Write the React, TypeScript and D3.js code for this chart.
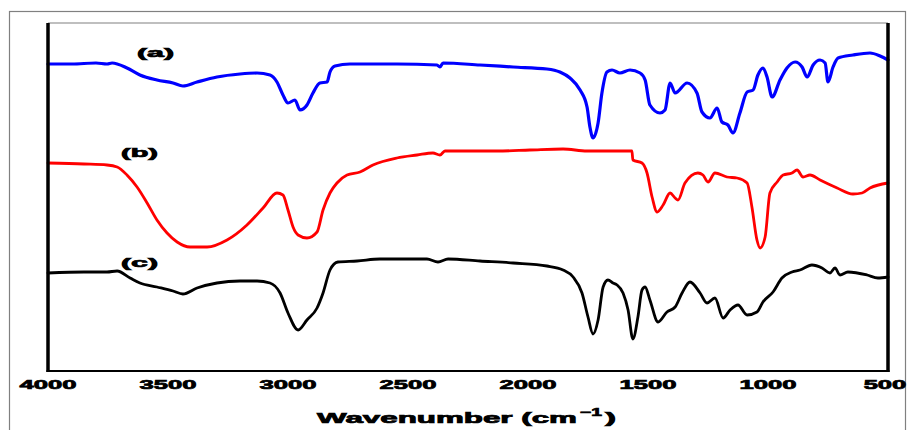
import React from "react";
import * as d3 from "d3";

const W = 907;
const H = 430;

const tickValues = [4000, 3500, 3000, 2500, 2000, 1500, 1000, 500];
const seriesLabels = ["(a)", "(b)", "(c)"];
const seriesColors = ["#0000ff", "#ff0000", "#000000"];

const spectrumA: [number, number][] = [
  [4000, 308], [3900, 308], [3800, 309], [3754, 308], [3733, 309], [3671, 304], [3617, 297], [3546, 292],
  [3479, 289], [3438, 286], [3379, 290], [3296, 295], [3200, 298], [3129, 299], [3075, 297], [3046, 290],
  [3021, 277], [3000, 269], [2971, 272], [2950, 262], [2921, 267], [2896, 279], [2867, 289], [2837, 290],
  [2825, 300], [2804, 306], [2742, 308], [2546, 308], [2379, 307], [2367, 305], [2354, 309], [2200, 307],
  [2062, 305], [1921, 303], [1867, 300], [1825, 294], [1783, 282], [1754, 265], [1742, 245], [1729, 234],
  [1708, 249], [1692, 279], [1671, 300], [1650, 302], [1617, 299], [1575, 302], [1533, 299], [1512, 292],
  [1492, 267], [1450, 259], [1429, 262], [1408, 289], [1387, 279], [1337, 289], [1296, 279], [1275, 260],
  [1242, 254], [1212, 264], [1192, 250], [1167, 247], [1146, 239], [1117, 259], [1087, 280], [1062, 282],
  [1042, 297], [1021, 304], [1004, 295], [983, 275], [950, 292], [921, 304], [887, 310], [858, 305],
  [837, 295], [812, 307], [783, 312], [762, 309], [750, 290], [729, 305], [708, 314], [646, 317],
  [575, 319], [533, 316], [500, 312],
];

const spectrumB: [number, number][] = [
  [4000, 209], [3850, 208], [3754, 207], [3712, 205], [3671, 197], [3629, 185], [3587, 169], [3546, 152],
  [3504, 139], [3462, 130], [3408, 125], [3337, 125], [3254, 132], [3171, 147], [3104, 164], [3046, 179],
  [3021, 177], [3000, 162], [2979, 145], [2958, 137], [2921, 134], [2879, 140], [2854, 162], [2825, 179],
  [2796, 189], [2754, 197], [2700, 200], [2646, 207], [2546, 214], [2462, 217], [2396, 219], [2367, 217],
  [2346, 221], [2271, 221], [2129, 221], [1992, 222], [1854, 223], [1754, 221], [1567, 221], [1563, 212],
  [1525, 209], [1504, 199], [1483, 175], [1462, 160], [1437, 167], [1408, 179], [1387, 174], [1375, 172],
  [1346, 189], [1292, 199], [1271, 197], [1250, 190], [1221, 199], [1171, 195], [1129, 194], [1087, 189],
  [1067, 165], [1046, 132], [1033, 124], [1012, 135], [992, 179], [962, 190], [937, 197], [900, 199],
  [879, 202], [854, 195], [825, 197], [783, 192], [712, 184], [646, 178], [608, 179], [575, 184],
  [500, 189],
];

const spectrumC: [number, number][] = [
  [4000, 99], [3850, 100], [3754, 100], [3712, 101], [3658, 94], [3617, 89], [3546, 85], [3479, 81],
  [3438, 78], [3379, 84], [3296, 89], [3200, 91], [3129, 91], [3075, 89], [3033, 79], [3000, 59],
  [2958, 42], [2921, 52], [2879, 64], [2854, 79], [2825, 102], [2792, 110], [2712, 111], [2617, 113],
  [2421, 113], [2375, 110], [2333, 113], [2200, 111], [2062, 109], [1921, 106], [1854, 102], [1812, 95],
  [1775, 79], [1750, 55], [1729, 38], [1708, 52], [1687, 85], [1667, 92], [1646, 89], [1629, 87],
  [1604, 79], [1583, 62], [1563, 33], [1542, 55], [1525, 82], [1512, 85], [1492, 72], [1458, 50],
  [1421, 60], [1387, 65], [1358, 79], [1325, 90], [1283, 79], [1254, 69], [1221, 74], [1187, 54],
  [1158, 62], [1125, 67], [1087, 57], [1046, 60], [1021, 70], [979, 80], [942, 94], [900, 100],
  [867, 102], [817, 107], [775, 104], [742, 99], [721, 104], [700, 97], [667, 100], [587, 97],
  [542, 94], [500, 95],
];

const spectra = [spectrumA, spectrumB, spectrumC];
const strokeWidths = [3.2, 2.8, 2.8];
const labelPos = [
  { x: 137, y: 57 },
  { x: 121, y: 157 },
  { x: 121, y: 267 },
];

const FONT = "'Liberation Sans', Arial, sans-serif";

export default function App() {
  const left = 48;
  const right = 888;
  const top = 23;
  const bottom = 372;

  const x = d3.scaleLinear().domain([4000, 500]).range([left, right]);
  const y = d3.scaleLinear().domain([0, 349]).range([bottom, top]);

  const line = d3
    .line<[number, number]>()
    .x((d) => x(d[0]))
    .y((d) => y(d[1]))
    .curve(d3.curveMonotoneX);

  const digitW = 14.25;
  const heavy = { stroke: "#000", strokeWidth: 0.7 };

  return (
    <svg
      width={W}
      height={H}
      style={{ position: "absolute", left: 0, top: 0, background: "#fff" }}
    >
      <rect x={0} y={0} width={W} height={H} fill="#fff" />
      {/* outer border */}
      <rect x={9.5} y={11.5} width={896} height={430} fill="none" stroke="#808080" strokeWidth={1.2} />
      {/* inner frame top */}
      <line x1={left} x2={right} y1={top} y2={top} stroke="#808080" strokeWidth={1.2} />
      {/* spectra */}
      {spectra.map((s, i) => (
        <path
          key={i}
          d={line(s) || ""}
          fill="none"
          stroke={seriesColors[i]}
          strokeWidth={strokeWidths[i]}
          strokeLinejoin="round"
          strokeLinecap="round"
        />
      ))}
      {/* axes */}
      <line x1={left} x2={left} y1={top} y2={bottom} stroke="#000" strokeWidth={3.5} />
      <line x1={right} x2={right} y1={top} y2={bottom} stroke="#000" strokeWidth={3.5} />
      <line x1={left - 1.5} x2={right + 1.5} y1={bottom - 1} y2={bottom - 1} stroke="#000" strokeWidth={2} />
      {/* tick labels */}
      {tickValues.map((t) => {
        const s = String(t);
        const len = s.length * digitW;
        const cx = t === 500 ? x(t) - 3 : x(t);
        return (
          <text
            key={t}
            x={cx - len / 2}
            y={388.5}
            fontFamily={FONT}
            fontWeight={900}
            fontSize={13}
            textLength={len}
            lengthAdjust="spacingAndGlyphs"
            fill="#000"
            {...heavy}
          >
            {s}
          </text>
        );
      })}
      {/* axis title */}
      <text
        x={317}
        y={423}
        fontFamily={FONT}
        fontWeight={900}
        fontSize={14}
        textLength={260}
        lengthAdjust="spacingAndGlyphs"
        fill="#000"
        {...heavy}
      >
        Wavenumber (cm
      </text>
      <text
        x={580}
        y={416}
        fontFamily={FONT}
        fontWeight={900}
        fontSize={11}
        textLength={22}
        lengthAdjust="spacingAndGlyphs"
        fill="#000"
        {...heavy}
      >
        −1
      </text>
      <text
        x={605}
        y={423}
        fontFamily={FONT}
        fontWeight={900}
        fontSize={14}
        textLength={11}
        lengthAdjust="spacingAndGlyphs"
        fill="#000"
        {...heavy}
      >
        )
      </text>
      {/* series labels */}
      {seriesLabels.map((lab, i) => (
        <text
          key={lab}
          x={labelPos[i].x}
          y={labelPos[i].y}
          fontFamily={FONT}
          fontWeight={900}
          fontSize={13}
          textLength={37}
          lengthAdjust="spacingAndGlyphs"
          fill="#000"
          {...heavy}
        >
          {lab}
        </text>
      ))}
    </svg>
  );
}
